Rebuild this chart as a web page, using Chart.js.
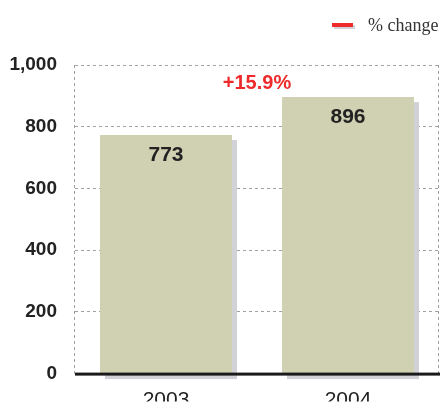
<!DOCTYPE html>
<html>
<head>
<meta charset="utf-8">
<script src="https://cdn.jsdelivr.net/npm/chart.js@4"></script>
<style>
  html, body { margin: 0; padding: 0; background: #fff; }
  #wrap { width: 440px; height: 403px; position: relative; overflow: hidden; }
</style>
</head>
<body>
<div id="wrap"><canvas id="exportChart" width="440" height="403"></canvas></div>
<script>
var years = ["2003", "2004"];
var values = [773, 896];
var changeLabel = "+15.9%";
var legendText = "% change";
var yTicks = [0, 200, 400, 600, 800, 1000];

var barColor = "#d0d1b2";
var shadowColor = "#d1d2d8";
var red = "#ee2a2a";

// gray drop shadow behind each bar
var shadowPlugin = {
  id: "barShadow",
  beforeDatasetsDraw: function(chart) {
    let ctx = chart.ctx;
    let meta = chart.getDatasetMeta(0);
    ctx.save();
    ctx.fillStyle = shadowColor;
    meta.data.forEach(function(bar) {
      let w = bar.width;
      ctx.fillRect(bar.x - w / 2 + 5, bar.y + 5, w, bar.base - bar.y + 1);
    });
    ctx.restore();
  }
};

// axis line, dotted frame, value labels, % change and legend
var extrasPlugin = {
  id: "extras",
  afterDatasetsDraw: function(chart) {
    let ctx = chart.ctx;
    let area = chart.chartArea;
    let meta = chart.getDatasetMeta(0);
    ctx.save();

    // left and right dotted frame
    ctx.strokeStyle = "#a0a0a0";
    ctx.lineWidth = 1;
    ctx.setLineDash([3, 3]);
    ctx.beginPath();
    ctx.moveTo(area.left - 0.5, area.top);
    ctx.lineTo(area.left - 0.5, area.bottom);
    ctx.moveTo(area.right - 0.5, area.top);
    ctx.lineTo(area.right - 0.5, area.bottom);
    ctx.stroke();
    ctx.setLineDash([]);

    // black base line
    ctx.fillStyle = "#1a1a1a";
    ctx.fillRect(area.left, area.bottom - 1, chart.width - area.left, 3);

    // values inside bars
    ctx.font = "bold 21px 'Liberation Sans', Arial, sans-serif";
    ctx.fillStyle = "#222";
    ctx.textAlign = "center";
    ctx.textBaseline = "middle";
    meta.data.forEach(function(bar, i) {
      ctx.fillText(String(values[i]), bar.x, bar.y + 20);
    });

    // change label between the bars
    let b0 = meta.data[0], b1 = meta.data[1];
    ctx.font = "bold 20px 'Liberation Sans', Arial, sans-serif";
    ctx.fillStyle = red;
    ctx.fillText(changeLabel, (b0.x + b1.x) / 2, b1.y - 14);

    // legend
    ctx.fillStyle = shadowColor;
    ctx.fillRect(334, 25, 21, 4);
    ctx.fillStyle = red;
    ctx.fillRect(332, 23, 21, 4);
    ctx.font = "18px 'Liberation Serif', 'Times New Roman', serif";
    ctx.fillStyle = "#333";
    ctx.textAlign = "left";
    ctx.fillText(legendText, 368, 26);

    ctx.restore();
  }
};

let ctx = document.getElementById("exportChart").getContext("2d");

let chartData = {
  type: "bar",
  data: {
    labels: years,
    datasets: [{
      label: legendText,
      data: values,
      backgroundColor: barColor,
      borderWidth: 0,
      barPercentage: 0.725,
      categoryPercentage: 1
    }]
  },
  options: {
    responsive: false,
    animation: false,
    layout: { padding: { top: 65, right: 1, left: 0, bottom: 0 } },
    plugins: {
      legend: { display: false },
      tooltip: { enabled: false }
    },
    scales: {
      x: {
        grid: { display: false, drawTicks: false },
        border: { display: false },
        ticks: {
          color: "#222",
          padding: 14,
          font: { family: "'Liberation Sans Narrow', 'Liberation Sans', sans-serif", size: 21 }
        },
        afterFit: function(scale) { scale.height = 28; }
      },
      y: {
        min: 0,
        max: 1000,
        afterBuildTicks: function(scale) {
          scale.ticks = yTicks.map(v => ({ value: v }));
        },
        grid: { color: "#a0a0a0", drawTicks: false, lineWidth: 1 },
        border: { display: false, dash: [3, 3] },
        ticks: {
          color: "#222",
          padding: 18,
          font: { family: "'Liberation Sans', Arial, sans-serif", size: 19, weight: "bold" },
          callback: function(v) { return v.toLocaleString("en-US"); }
        },
        afterFit: function(scale) { scale.width = 75; }
      }
    }
  },
  plugins: [shadowPlugin, extrasPlugin]
};

let chart = new Chart(ctx, chartData);
</script>
</body>
</html>
